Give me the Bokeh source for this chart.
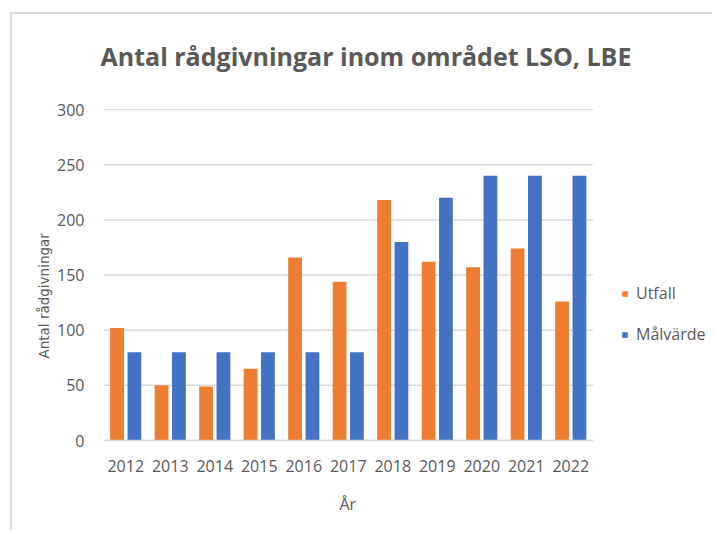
from bokeh.plotting import figure
from bokeh.models import ColumnDataSource, Legend, LegendItem, Range1d, Title
from bokeh.transform import dodge
from bokeh.embed import file_html
from bokeh.resources import INLINE

years = ["2012", "2013", "2014", "2015", "2016", "2017", "2018", "2019", "2020", "2021", "2022"]
utfall = [102, 50, 49, 65, 166, 144, 218, 162, 157, 174, 126]
malvarde = [80, 80, 80, 80, 80, 80, 180, 220, 240, 240, 240]
y_ticks = [0, 50, 100, 150, 200, 250, 300]

FONT = "Open Sans"
GREY = "#595959"
GRID = "#d9d9d9"

n = len(years)
xs = list(range(n))
src = ColumnDataSource(dict(x=xs, year=years, utfall=utfall, malvarde=malvarde))
grid_src = ColumnDataSource(dict(y=y_ticks))

# layout (pixels)
W, H = 712, 530
ML, MR, MT, MB = 103, 0, 107, 90
cat_px = 44.5
frame_w = W - ML - MR
x_end = -0.5 + frame_w / cat_px

p = figure(width=W, height=H, x_range=Range1d(-0.5, x_end), y_range=Range1d(0, 301),
           output_backend="svg", toolbar_location=None,
           min_border_left=ML, min_border_right=MR, min_border_top=MT, min_border_bottom=MB)
p.styles = {"box-shadow": "inset 10px 12px 0px 0px white, inset 12px 14px 0px 0px #d9d9d9"}
p.border_fill_color = None
p.outline_line_color = None
p.xgrid.grid_line_color = None
p.ygrid.grid_line_color = None

p.title.text = "Antal rådgivningar inom området LSO, LBE"
p.title.text_font = FONT
p.title.text_font_size = "25px"
p.title.text_font_style = "bold"
p.title.text_color = GREY
p.title.align = "left"
p.title.offset = -3
p.title.standoff = 72

p.segment(x0=-0.5, x1=n - 0.5, y0="y", y1="y", source=grid_src,
          line_color=GRID, line_width=1.5)

r1 = p.vbar(x=dodge("x", -0.195), top="utfall", width=0.31, source=src,
            fill_color="#ED7D31", line_color=None)
r2 = p.vbar(x=dodge("x", 0.195), top="malvarde", width=0.31, source=src,
            fill_color="#4472C4", line_color=None)

p.yaxis.ticker = y_ticks
p.xaxis.ticker = xs
p.xaxis.major_label_overrides = {i: y for i, y in zip(xs, years)}
p.xaxis.bounds = (-0.5, n - 0.5)

p.yaxis.axis_line_color = None
p.yaxis.major_tick_line_color = None
p.yaxis.minor_tick_line_color = None
p.xaxis.axis_line_color = GRID
p.xaxis.axis_line_width = 1.5
p.xaxis.major_tick_line_color = None
p.xaxis.minor_tick_line_color = None

for ax in (p.xaxis, p.yaxis):
    ax.major_label_text_font = FONT
    ax.major_label_text_font_size = "16px"
    ax.major_label_text_color = GREY
p.yaxis.major_label_standoff = 13
p.xaxis.major_label_standoff = 13

ytitle = Title(text="Antal rådgivningar", align="left", offset=82, standoff=6,
               text_font="DejaVu Sans", text_font_size="13.5px", text_font_style="normal",
               text_color=GREY)
p.add_layout(ytitle, "left")

xtitle = Title(text="År", align="left", offset=236, standoff=32,
               text_font=FONT, text_font_size="16px", text_font_style="normal",
               text_color=GREY)
p.add_layout(xtitle, "below")

legend = Legend(items=[LegendItem(label="Utfall", renderers=[r1]),
                       LegendItem(label="Målvärde", renderers=[r2])],
                location=(518, 95), orientation="vertical",
                label_text_font=FONT, label_text_font_size="16px", label_text_color=GREY,
                glyph_width=7, glyph_height=7, spacing=19, padding=0, margin=0,
                label_height=20, border_line_color=None, background_fill_alpha=0,
                label_standoff=8)
p.add_layout(legend, "center")

open("out.html", "w").write(file_html(p, INLINE))
